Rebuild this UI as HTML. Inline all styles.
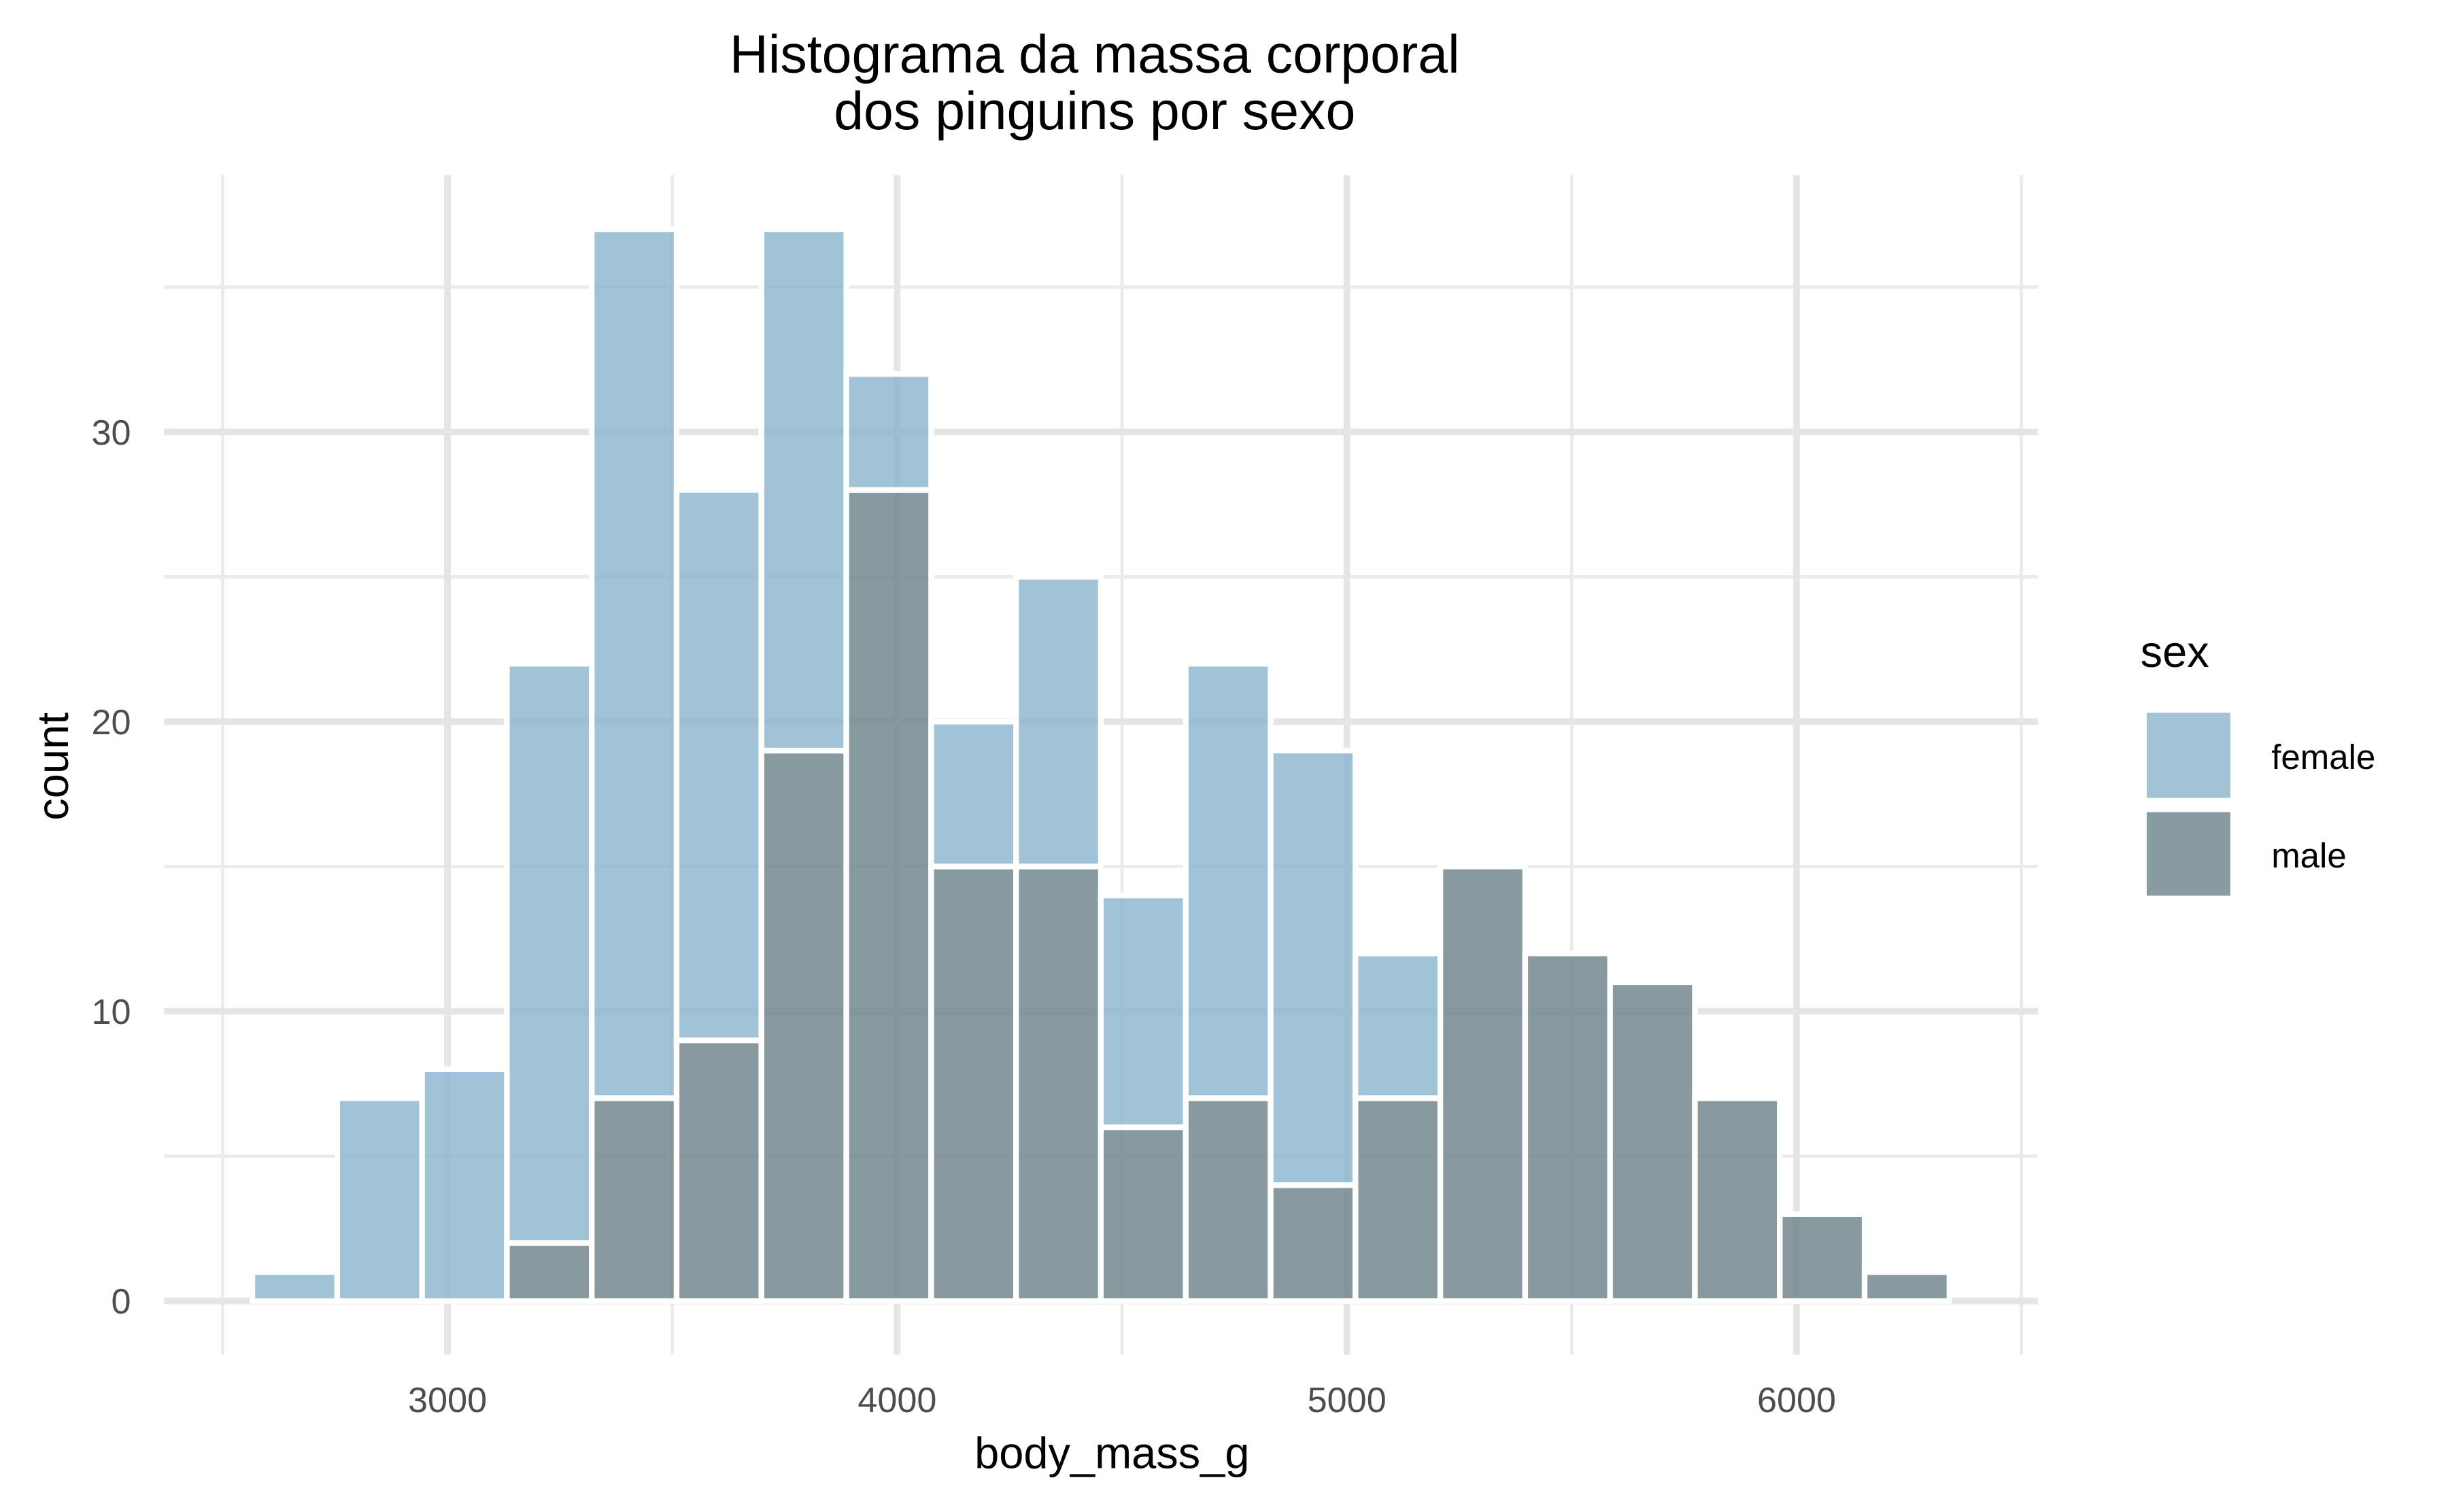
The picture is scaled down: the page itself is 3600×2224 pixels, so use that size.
<!DOCTYPE html>
<html><head><meta charset="utf-8"><style>
html,body{margin:0;padding:0;background:#fff;}
svg{display:block;font-family:"Liberation Sans",Arial,sans-serif;}
</style></head><body>
<svg id="chart" width="3600" height="2224" viewBox="0 0 1552 958.8" xmlns="http://www.w3.org/2000/svg">
<rect width="1552" height="958.8" fill="#fff"/>
<g id="grid"></g>
<g id="bars"></g>
<g id="axes"></g>
<text x="694" y="46" font-size="34" text-anchor="middle" fill="#000">Histograma da massa corporal</text>
<text x="694" y="82" font-size="34" text-anchor="middle" fill="#000">dos pinguins por sexo</text>
<text x="705" y="931" font-size="28" text-anchor="middle" fill="#000">body_mass_g</text>
<text transform="translate(43,486) rotate(-90)" font-size="28" text-anchor="middle" fill="#000">count</text>
<g>
<text x="1357" y="423" font-size="28" fill="#000">sex</text>
<rect x="1361" y="452" width="53" height="54" fill="#a2c3d6"/>
<rect x="1361" y="515" width="53" height="53" fill="#889ba3"/>
<text x="1440" y="487.6" font-size="22" fill="#000">female</text>
<text x="1440" y="550" font-size="22" fill="#000">male</text>
</g>
</svg>
<script>
const binStart = 2566;
const binWidth = 188.7;
const maleCounts = [0,0,0,2,7,9,19,28,15,15,6,7,4,7,15,12,11,7,3,1];
const femaleCounts = [1,7,8,20,30,19,18,4,5,10,8,15,15,5,0,0,0,0,0,0];
const xTicks = [3000,4000,5000,6000];
const xMinor = [2500,3500,4500,5500,6500];
const yTicks = [0,10,20,30];
const yMinor = [5,15,25,35];
const NS="http://www.w3.org/2000/svg";
function x(v){return 283.7+(v-3000)*0.2851;}
function y(v){return 825-v*18.37;}
function mk(tag,attrs,parent){const e=document.createElementNS(NS,tag);for(const k in attrs)e.setAttribute(k,attrs[k]);parent.appendChild(e);return e;}
const grid=document.getElementById('grid'),bars=document.getElementById('bars'),axes=document.getElementById('axes');
yMinor.forEach(t=>{const l=mk('line',{x1:104,x2:1292,y1:y(t),y2:y(t),stroke:'#ebebeb','stroke-width':2.1},grid);

});
xMinor.forEach(t=>{const l=mk('line',{x1:x(t),x2:x(t),y1:111,y2:859,stroke:'#ebebeb','stroke-width':2.1},grid);

});
yTicks.forEach(t=>{const l=mk('line',{x1:104,x2:1292,y1:y(t),y2:y(t),stroke:'#e5e5e5','stroke-width':4.2},grid);


const tx=mk('text',{x:83,y:y(t)+8,'font-size':22.5,'text-anchor':'end',fill:'#4d4d4d'},axes);tx.textContent=t;

});
xTicks.forEach(t=>{const l=mk('line',{x1:x(t),x2:x(t),y1:111,y2:859,stroke:'#e5e5e5','stroke-width':4.2},grid);


const tx=mk('text',{x:x(t),y:895.4,'font-size':22.5,'text-anchor':'middle',fill:'#4d4d4d'},axes);tx.textContent=t;

});
maleCounts.forEach((m,i)=>{
  const x0=x(binStart+i*binWidth),x1=x(binStart+(i+1)*binWidth),f=femaleCounts[i];
  if(m>0){const r=mk('rect',{x:x0,y:y(m),width:x1-x0,height:y(0)-y(m),fill:'rgba(110,130,139,0.82)',stroke:'#fff','stroke-width':3.6},bars);
  
  }
  if(f>0){const r=mk('rect',{x:x0,y:y(m+f),width:x1-x0,height:y(m)-y(m+f),fill:'rgba(138,180,205,0.8)',stroke:'#fff','stroke-width':3.6},bars);
  
  }
});
</script>
</body></html>
